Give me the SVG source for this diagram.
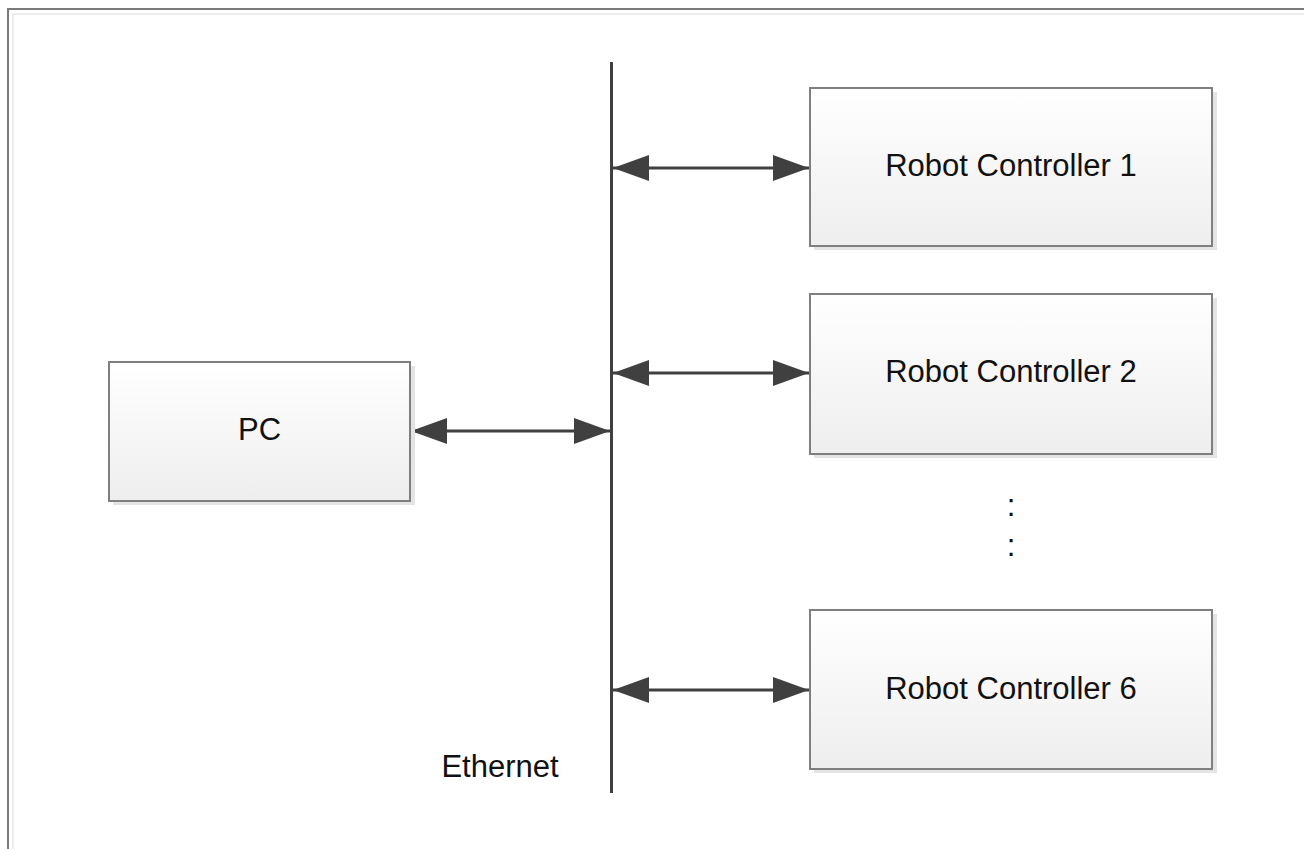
<svg xmlns="http://www.w3.org/2000/svg" width="1304" height="849" viewBox="0 0 1304 849">
<defs>
<linearGradient id="boxfill" x1="0" y1="0" x2="0" y2="1">
<stop offset="0" stop-color="#ffffff"/>
<stop offset="1" stop-color="#eeeeee"/>
</linearGradient>
<marker id="ah" markerUnits="userSpaceOnUse" markerWidth="36" markerHeight="26" viewBox="0 0 36 26" refX="36" refY="13" orient="auto-start-reverse">
<path d="M0,0 L36,13 L0,26 Z" fill="#404040"/>
</marker>
</defs>
<style>
.frame{fill:none;stroke:#7a7a7a;stroke-width:2}
.frame2{fill:none;stroke:#ececec;stroke-width:2}
.shadow{fill:#e4e4e4}
.box{fill:url(#boxfill);stroke:#7f7f7f;stroke-width:2}
.lbl{font-family:"Liberation Sans",Arial,sans-serif;font-size:31px;fill:#111111;text-anchor:middle}
.conn{stroke:#404040;stroke-width:3;fill:none}
.bus{stroke:#404040;stroke-width:3;fill:none}
</style>
<rect x="0" y="0" width="1304" height="849" fill="#ffffff"/>
<rect class="frame" x="8" y="9" width="1310" height="860"/>
<rect class="frame2" x="13" y="14" width="1300" height="850"/>
<g id="connectors">
<line class="bus" x1="611.5" y1="62" x2="611.5" y2="793"/>
<line class="conn" x1="411" y1="431" x2="610" y2="431" marker-start="url(#ah)" marker-end="url(#ah)"/>
<line class="conn" x1="613" y1="168" x2="809" y2="168" marker-start="url(#ah)" marker-end="url(#ah)"/>
<line class="conn" x1="613" y1="373" x2="809" y2="373" marker-start="url(#ah)" marker-end="url(#ah)"/>
<line class="conn" x1="613" y1="690" x2="809" y2="690" marker-start="url(#ah)" marker-end="url(#ah)"/>
</g>
<g id="pc">
<rect class="shadow" x="113" y="366" width="302" height="139"/>
<rect class="box" x="109" y="362" width="301" height="139"/>
<text class="lbl" x="259.5" y="440">PC</text>
</g>
<g id="rc1">
<rect class="shadow" x="814" y="92" width="403" height="158"/>
<rect class="box" x="810" y="88" width="402" height="158"/>
<text class="lbl" x="1011" y="176">Robot Controller 1</text>
</g>
<g id="rc2">
<rect class="shadow" x="814" y="298" width="403" height="160"/>
<rect class="box" x="810" y="294" width="402" height="160"/>
<text class="lbl" x="1011" y="382">Robot Controller 2</text>
</g>
<g id="rc6">
<rect class="shadow" x="814" y="614" width="403" height="159"/>
<rect class="box" x="810" y="610" width="402" height="159"/>
<text class="lbl" x="1011" y="699">Robot Controller 6</text>
</g>
<g id="ellipsis">
<text class="lbl" x="1011" y="516">:</text>
<text class="lbl" x="1011" y="556">:</text>
</g>
<g id="ethernet-label">
<text class="lbl" x="500" y="777">Ethernet</text>
</g>
</svg>
